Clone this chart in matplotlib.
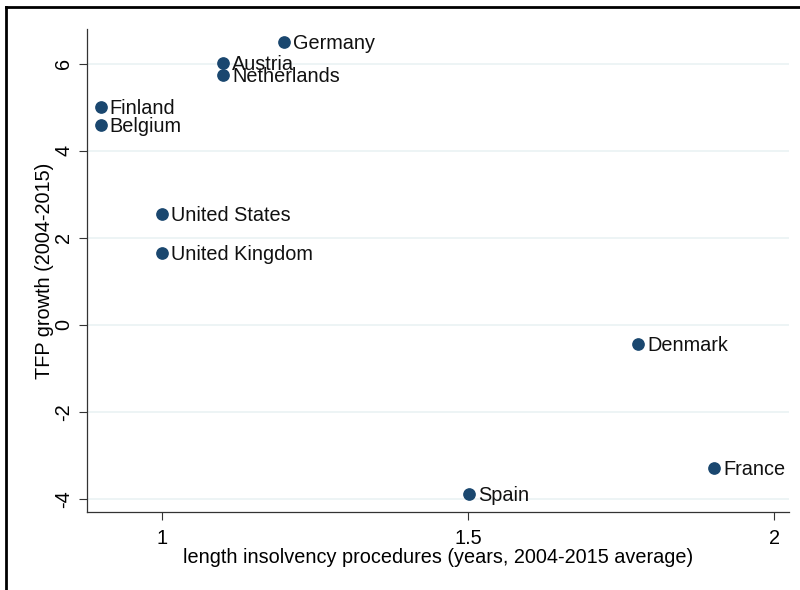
import matplotlib.pyplot as plt
from matplotlib.lines import Line2D

plt.rcParams['font.family'] = ['Liberation Sans', 'DejaVu Sans']

# data
countries = ['Germany', 'Austria', 'Netherlands', 'Finland', 'Belgium',
             'United States', 'United Kingdom', 'Denmark', 'France', 'Spain']
insolvency_years = [1.20, 1.10, 1.10, 0.90, 0.90, 1.00, 1.00, 1.778, 1.902, 1.502]
tfp_growth = [6.51, 6.02, 5.75, 5.01, 4.60, 2.55, 1.66, -0.44, -3.29, -3.89]

fig = plt.figure(figsize=(8, 5.9), dpi=100)
fig.patch.set_facecolor('white')
ax = fig.add_axes([0.10875, 0.1322, 0.8775, 0.8186])

ax.scatter(insolvency_years, tfp_growth, s=66, color='#1a476f', zorder=3)
for name, xv, yv in zip(countries, insolvency_years, tfp_growth):
    ax.annotate(name, (xv, yv), xytext=(6.5, -1), textcoords='offset points',
                va='center', ha='left', fontsize=14.3, color='#111111')

ax.set_xlim(0.8775, 2.0245)
ax.set_ylim(-4.3, 6.8)
ax.set_xticks([1, 1.5, 2])
ax.set_xticklabels(['1', '1.5', '2'])
ax.set_yticks([-4, -2, 0, 2, 4, 6])
ax.set_yticklabels(['-4', '-2', '0', '2', '4', '6'], rotation=90, va='center')
ax.tick_params(axis='both', labelsize=14.3, length=6, width=0.8, color='#333333')
ax.tick_params(axis='x', pad=6)
ax.tick_params(axis='y', pad=4)

ax.yaxis.grid(True, color='#eaf2f3', linewidth=1.2)
ax.set_axisbelow(True)
for side in ['top', 'right']:
    ax.spines[side].set_visible(False)
for side in ['left', 'bottom']:
    ax.spines[side].set_linewidth(0.9)
    ax.spines[side].set_color('#333333')

ax.set_xlabel('length insolvency procedures (years, 2004-2015 average)', fontsize=14.3, labelpad=0)
ax.set_ylabel('TFP growth (2004-2015)', fontsize=14.3, labelpad=0)

# outer frame (left and top only, as cropped)
fig.add_artist(Line2D([6/800, 6/800], [0, 1 - 7/590], color='black', linewidth=2, transform=fig.transFigure))
fig.add_artist(Line2D([6/800, 1], [1 - 7/590, 1 - 7/590], color='black', linewidth=2, transform=fig.transFigure))

plt.savefig('out.png', dpi=100)
